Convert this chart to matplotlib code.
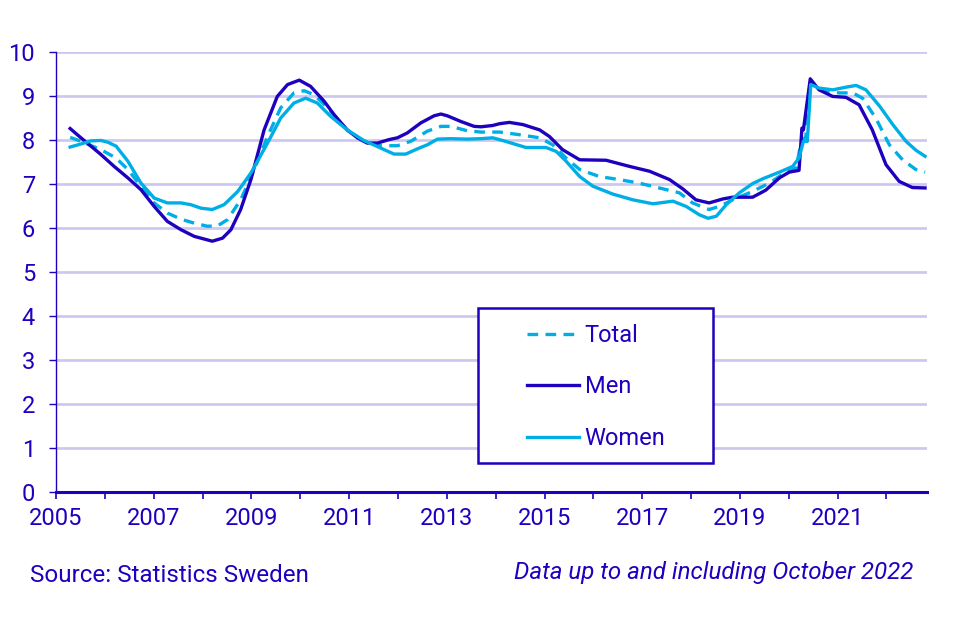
import matplotlib
matplotlib.use('Agg')
import matplotlib.pyplot as plt
from matplotlib.patches import Rectangle

# värden (år, procent)
men_x = [2005.29, 2005.51, 2005.92, 2006.19, 2006.47, 2006.74, 2007.01, 2007.28, 2007.56, 2007.83,
         2008.20, 2008.41, 2008.58, 2008.78, 2008.99, 2009.26, 2009.53, 2009.74, 2009.98, 2010.21,
         2010.49, 2010.69, 2010.96, 2011.17, 2011.37, 2011.58, 2011.82, 2011.99, 2012.19, 2012.47,
         2012.74, 2012.88, 2013.01, 2013.29, 2013.56, 2013.70, 2013.94, 2014.08, 2014.28, 2014.56,
         2014.90, 2015.10, 2015.37, 2015.72, 2016.26, 2016.74, 2017.15, 2017.56, 2017.83, 2018.10,
         2018.37, 2018.65, 2018.85, 2019.26, 2019.53, 2019.81, 2020.01, 2020.21, 2020.27, 2020.30,
         2020.44, 2020.62, 2020.90, 2021.17, 2021.44, 2021.71, 2021.99, 2022.26, 2022.53, 2022.79]
men_y = [8.26, 8.05, 7.67, 7.40, 7.14, 6.87, 6.49, 6.15, 5.96, 5.81,
         5.70, 5.77, 5.96, 6.42, 7.10, 8.23, 8.99, 9.26, 9.36, 9.22,
         8.88, 8.58, 8.23, 8.05, 7.93, 7.93, 8.01, 8.05, 8.16, 8.39,
         8.55, 8.59, 8.55, 8.42, 8.31, 8.30, 8.33, 8.37, 8.40, 8.35,
         8.23, 8.08, 7.78, 7.55, 7.54, 7.40, 7.29, 7.10, 6.89, 6.64,
         6.57, 6.66, 6.70, 6.70, 6.86, 7.14, 7.27, 7.31, 8.27, 8.23,
         9.39, 9.14, 8.99, 8.97, 8.80, 8.23, 7.44, 7.06, 6.92, 6.91]

women_x = [2005.29, 2005.51, 2005.72, 2005.92, 2006.06, 2006.23, 2006.47, 2006.74, 2007.01, 2007.28,
           2007.56, 2007.76, 2007.97, 2008.20, 2008.44, 2008.72, 2008.99, 2009.33, 2009.60, 2009.87,
           2010.11, 2010.35, 2010.62, 2010.96, 2011.30, 2011.64, 2011.92, 2012.16, 2012.40, 2012.60,
           2012.81, 2013.08, 2013.42, 2013.70, 2013.94, 2014.14, 2014.35, 2014.62, 2015.03, 2015.24,
           2015.44, 2015.72, 2015.99, 2016.40, 2016.81, 2017.22, 2017.63, 2017.90, 2018.17, 2018.35,
           2018.52, 2018.72, 2018.99, 2019.26, 2019.47, 2019.81, 2020.08, 2020.21, 2020.30, 2020.38,
           2020.45, 2020.62, 2020.90, 2021.17, 2021.38, 2021.58, 2021.86, 2022.13, 2022.40, 2022.60,
           2022.79]
women_y = [7.84, 7.91, 7.98, 7.99, 7.95, 7.86, 7.52, 7.02, 6.68, 6.57,
           6.57, 6.53, 6.45, 6.42, 6.53, 6.83, 7.25, 7.93, 8.50, 8.84,
           8.95, 8.84, 8.54, 8.23, 7.99, 7.82, 7.68, 7.68, 7.80, 7.89,
           8.02, 8.03, 8.02, 8.03, 8.05, 7.99, 7.92, 7.83, 7.83, 7.74,
           7.52, 7.17, 6.95, 6.77, 6.64, 6.55, 6.61, 6.49, 6.30, 6.22,
           6.27, 6.53, 6.80, 7.01, 7.12, 7.27, 7.40, 7.59, 7.97, 7.97,
           9.26, 9.18, 9.14, 9.20, 9.24, 9.14, 8.77, 8.35, 7.97, 7.77,
           7.63]

total_x = [2005.29, 2005.51, 2005.92, 2006.23, 2006.47, 2006.74, 2007.01, 2007.28, 2007.56, 2007.83,
           2008.10, 2008.31, 2008.51, 2008.78, 2009.06, 2009.33, 2009.60, 2009.87, 2010.08, 2010.28,
           2010.56, 2010.96, 2011.30, 2011.64, 2011.99, 2012.26, 2012.60, 2012.88, 2013.08, 2013.42,
           2013.70, 2014.08, 2014.49, 2014.90, 2015.17, 2015.44, 2015.72, 2016.12, 2016.53, 2016.94,
           2017.35, 2017.76, 2018.03, 2018.37, 2018.58, 2018.85, 2019.26, 2019.60, 2019.94, 2020.15,
           2020.25, 2020.35, 2020.44, 2020.62, 2021.03, 2021.31, 2021.51, 2021.78, 2022.06, 2022.33,
           2022.60, 2022.79]
total_y = [8.06, 7.97, 7.78, 7.59, 7.33, 6.95, 6.57, 6.34, 6.20, 6.11,
           6.04, 6.05, 6.19, 6.64, 7.33, 8.08, 8.73, 9.07, 9.12, 9.03,
           8.73, 8.23, 7.97, 7.87, 7.87, 7.97, 8.20, 8.31, 8.31, 8.21,
           8.18, 8.18, 8.12, 8.05, 7.89, 7.59, 7.33, 7.17, 7.10, 7.02,
           6.91, 6.80, 6.57, 6.42, 6.49, 6.64, 6.83, 7.02, 7.27, 7.36,
           7.93, 8.08, 9.30, 9.14, 9.07, 9.07, 8.95, 8.50, 7.89, 7.55,
           7.33, 7.27]

year_ticks = list(range(2005, 2023))
year_labels = [str(y) if y % 2 == 1 else '' for y in year_ticks]

dark = '#1e00be'
light = '#00aee6'
grid = '#cdc8f0'

plt.rcParams['font.family'] = ['Roboto', 'DejaVu Sans']

fig = plt.figure(figsize=(9.64, 6.19), dpi=100)
ax = fig.add_axes([56/964, 1 - 492/619, (927 - 56)/964, (492 - 52)/619])

ax.plot(total_x, total_y, color=light, lw=2.4, ls=(0, (3.2, 2.2)), label='Total')
ax.plot(men_x, men_y, color=dark, lw=2.4, label='Men')
ax.plot(women_x, women_y, color=light, lw=2.4, label='Women')

ax.set_xlim(2005, 2022.83)
ax.set_ylim(0, 10)
ax.set_yticks(range(0, 11))
ax.set_xticks(year_ticks)
ax.set_xticklabels(year_labels)
ax.yaxis.grid(True, color=grid, lw=2)
ax.set_axisbelow(True)

for s in ['top', 'right']:
    ax.spines[s].set_visible(False)
ax.spines['left'].set_color(dark)
ax.spines['left'].set_linewidth(1)
ax.spines['bottom'].set_color(dark)
ax.spines['bottom'].set_linewidth(2.2)
ax.tick_params(axis='y', colors=dark, labelsize=17, length=5, width=1, pad=10)
ax.tick_params(axis='x', colors=dark, labelsize=17, length=5, width=1.2, pad=6)

# legendruta
fig.patches.append(Rectangle((478/964, 1 - 463/619), 235/964, 155/619, transform=fig.transFigure,
                             fill=True, facecolor='white', edgecolor=dark, lw=1.8, zorder=5))
leg = fig.legend(loc='center', bbox_to_anchor=(596/964, 1 - 387/619), frameon=False,
                 fontsize=17, handlelength=2.2, handletextpad=0.25, labelspacing=1.2)
for t in leg.get_texts():
    t.set_color(dark)
leg.set_zorder(6)

fig.text(30/964, 1 - 575/619, 'Source: Statistics Sweden', color=dark, fontsize=17.4,
         ha='left', va='center')
fig.text(913/964, 1 - 573/619, 'Data up to and including October 2022', color=dark,
         fontsize=17.4, style='italic', ha='right', va='center')

fig.savefig('out.png', dpi=100)
